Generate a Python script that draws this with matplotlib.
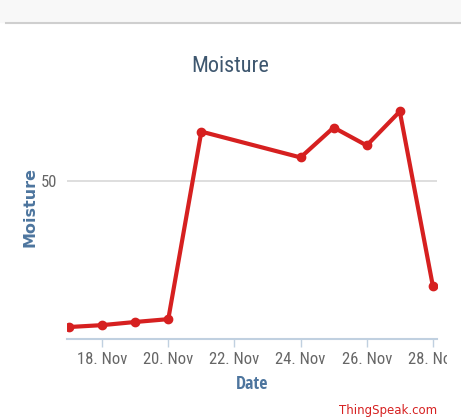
import datetime as dt
import matplotlib
matplotlib.use("Agg")
from matplotlib import pyplot as plt
import matplotlib.dates as mdates
from matplotlib.transforms import Bbox, TransformedBbox
from matplotlib.patches import Rectangle
from matplotlib.lines import Line2D

# Moisture readings (one per day)
dates = [dt.datetime(2016, 11, d) for d in [17, 18, 19, 20, 21, 24, 25, 26, 27, 28]]
moisture = [3.8, 4.4, 5.4, 6.3, 65.8, 57.6, 67.1, 61.4, 72.2, 16.8]
tick_days = [18, 20, 22, 24, 26, 28]

plt.rcParams["font.family"] = ["DejaVu Sans"]
narrow = ["Roboto Condensed", "DejaVu Sans"]
narrow_bold = ["Open Sans Condensed", "DejaVu Sans"]

fig = plt.figure(figsize=(4.61, 4.19), dpi=100)

# header band like the web page
fig.patches.append(Rectangle((0, 1 - 22 / 419), 1, 22 / 419, transform=fig.transFigure,
                             color="#f8f8f8", zorder=0))
fig.lines.append(Line2D([6 / 461, 1], [1 - 23.5 / 419] * 2, transform=fig.transFigure,
                        color="#cfcfcf", lw=1.5))

ax = fig.add_axes([67 / 461, 1 - 339 / 419, 370 / 461, 249 / 419])

ax.plot(dates, moisture, color="#d62020", lw=3, marker="o", ms=6,
        solid_joinstyle="round", zorder=3)

ax.set_xlim(dt.datetime(2016, 11, 16, 22, 30), dt.datetime(2016, 11, 28, 3))
ax.set_ylim(0, 79)

ax.set_xticks([dt.datetime(2016, 11, d) for d in tick_days])
ax.xaxis.set_major_formatter(mdates.DateFormatter("%d. %b"))
ax.set_yticks([50])
ax.yaxis.grid(True, color="#d8d8d8", lw=1.2)
ax.set_axisbelow(True)

for side in ["top", "right", "left"]:
    ax.spines[side].set_visible(False)
ax.spines["bottom"].set_color("#c0d0e0")
ax.spines["bottom"].set_linewidth(1.5)

ax.tick_params(axis="x", colors="#c0d0e0", length=6, width=1, labelcolor="#666666",
               labelsize=12, pad=3)
ax.tick_params(axis="y", length=0, labelcolor="#666666", labelsize=12, pad=7)
for lbl in ax.get_xticklabels() + ax.get_yticklabels():
    lbl.set_family(narrow)

fig.text(230 / 461, 1 - 67 / 419, "Moisture", color="#3e576f", fontsize=16,
         family=narrow, ha="center", va="center")
ax.set_xlabel("Date", color="#4d759e", fontsize=13, fontweight="bold", family=narrow_bold)
ax.xaxis.set_label_coords(0.5, -(384 - 339) / 249)
ax.xaxis.label.set_va("center")
ax.set_ylabel("Moisture", color="#4d759e", fontsize=11.5, fontweight="bold")
ax.yaxis.set_label_coords(-(67 - 30) / 370, (339 - 207) / 249)
ax.yaxis.label.set_va("center")

fig.text(437 / 461, 1 - 410 / 419, "ThingSpeak.com", color="#d62020", fontsize=8.5,
         ha="right", va="center")

# the last tick label is cut off by the chart container
clip = TransformedBbox(Bbox([[0, 0], [447 / 461, 1]]), fig.transFigure)
for lbl in ax.get_xticklabels():
    lbl.set_clip_box(clip)
    lbl.set_clip_on(True)

fig.savefig("out.png", dpi=100)
